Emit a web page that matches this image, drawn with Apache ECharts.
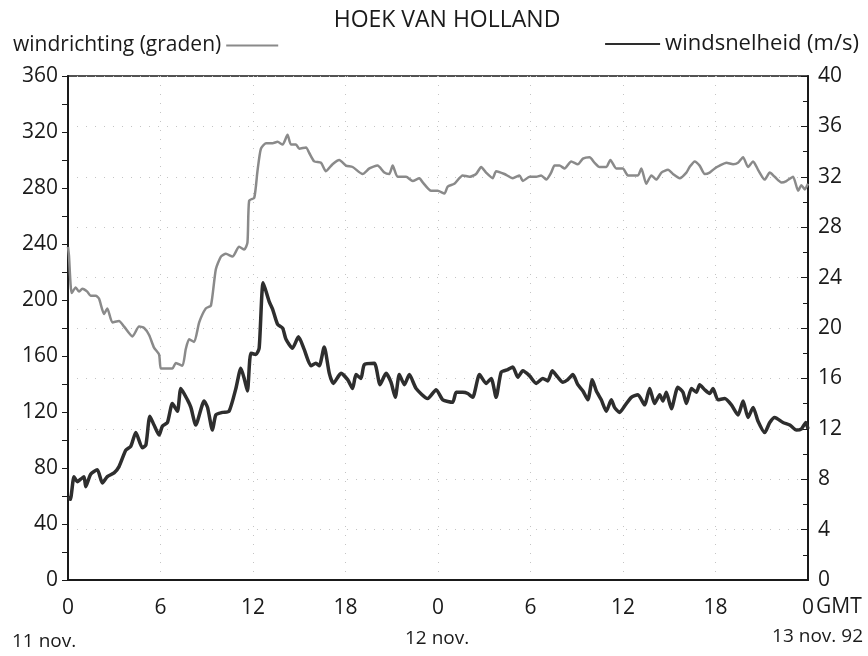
<!DOCTYPE html>
<html>
<head>
<meta charset="utf-8">
<script src="https://cdn.jsdelivr.net/npm/echarts@6/dist/echarts.min.js"></script>
<style>
  html, body { margin: 0; padding: 0; background: #fff; }
  #chart { width: 868px; height: 656px; }
</style>
</head>
<body>
<div id="chart"></div>
<script>
// uren sinds 11 nov. 0 GMT
var dirHours = [0, 0.06, 0.24, 0.5, 0.71, 0.93, 1.25, 1.47, 1.8, 2.01, 2.34, 2.55, 2.88, 3.31, 3.64, 4.18, 4.61, 4.94, 5.26, 5.58, 5.91, 6.02, 6.34, 6.77, 6.99, 7.42, 7.64, 7.86, 8.18, 8.51, 8.94, 9.27, 9.59, 9.92, 10.24, 10.67, 11.1, 11.43, 11.64, 11.75, 12.08, 12.29, 12.51, 12.84, 13.27, 13.59, 13.92, 14.24, 14.46, 14.79, 15.0, 15.44, 15.65, 15.97, 16.41, 16.73, 17.16, 17.6, 18.03, 18.46, 19.11, 19.55, 20.08, 20.52, 20.84, 21.06, 21.38, 21.93, 22.36, 22.79, 23.01, 23.55, 23.98, 24.42, 24.63, 25.06, 25.6, 26.04, 26.47, 26.8, 27.12, 27.55, 27.77, 28.31, 28.85, 29.29, 29.5, 29.94, 30.37, 30.69, 31.02, 31.34, 31.56, 31.88, 32.21, 32.64, 33.07, 33.4, 33.83, 34.16, 34.48, 34.92, 35.18, 35.56, 35.99, 36.32, 36.97, 37.19, 37.51, 37.84, 38.16, 38.49, 38.92, 39.24, 39.68, 40.11, 40.32, 40.65, 40.97, 41.3, 41.62, 41.95, 42.27, 42.71, 43.14, 43.46, 43.79, 44.11, 44.44, 44.76, 45.19, 45.52, 45.84, 46.28, 46.6, 47.03, 47.36, 47.57, 47.79, 48];
var dirValues = [238, 232, 205, 209, 206, 208, 206, 203, 203, 201, 190, 194, 184, 185, 181, 174, 181, 180, 175, 166, 161, 151, 151, 151, 155, 153, 165, 172, 170, 184, 194, 196, 222, 231, 233, 231, 238, 236, 241, 271, 273, 292, 308, 312, 312, 313, 311, 318, 311, 311, 308, 309, 305, 299, 298, 292, 297, 300, 296, 295, 290, 294, 296, 291, 290, 296, 288, 288, 285, 287, 284, 278, 278, 276, 281, 283, 289, 288, 290, 295, 291, 287, 292, 290, 287, 289, 285, 288, 288, 289, 286, 291, 296, 296, 294, 299, 297, 301, 302, 298, 295, 295, 300, 294, 294, 289, 289, 294, 283, 289, 286, 291, 293, 290, 287, 291, 295, 299, 296, 290, 291, 294, 296, 298, 297, 298, 302, 295, 299, 293, 286, 291, 288, 284, 285, 288, 278, 282, 279, 283];

var spdHours = [0, 0.15, 0.39, 0.6, 0.82, 1.04, 1.15, 1.47, 1.9, 2.23, 2.55, 2.99, 3.31, 3.75, 4.07, 4.4, 4.82, 5.05, 5.31, 5.58, 5.91, 6.12, 6.45, 6.77, 7.1, 7.32, 7.75, 7.97, 8.29, 8.83, 9.05, 9.37, 9.59, 10.02, 10.45, 10.89, 11.21, 11.43, 11.64, 11.86, 12.19, 12.4, 12.66, 13.05, 13.27, 13.59, 13.92, 14.14, 14.56, 14.95, 15.32, 15.76, 16.08, 16.3, 16.62, 16.95, 17.21, 17.71, 18.14, 18.46, 18.68, 19.0, 19.22, 19.87, 20.24, 20.63, 20.95, 21.23, 21.49, 21.82, 22.14, 22.58, 23.33, 23.88, 24.31, 24.95, 25.18, 25.6, 25.93, 26.25, 26.69, 27.12, 27.45, 27.77, 28.1, 28.53, 28.85, 29.18, 29.5, 29.94, 30.37, 30.8, 31.12, 31.41, 31.77, 32.1, 32.42, 32.75, 33.07, 33.4, 33.72, 34.01, 34.27, 34.59, 34.92, 35.24, 35.45, 35.78, 36.1, 36.54, 36.97, 37.4, 37.73, 38.05, 38.38, 38.59, 38.81, 39.14, 39.56, 39.89, 40.11, 40.44, 40.76, 40.97, 41.3, 41.62, 41.84, 42.16, 42.6, 43.03, 43.46, 43.79, 44.11, 44.44, 44.76, 45.19, 45.52, 45.84, 46.38, 46.82, 47.25, 47.58, 47.86, 48];
var spdValues = [6.6, 6.4, 8.2, 7.8, 8.0, 8.2, 7.4, 8.4, 8.75, 7.7, 8.2, 8.5, 9.0, 10.3, 10.6, 11.7, 10.5, 10.7, 13.0, 12.3, 11.5, 12.2, 12.5, 14.0, 13.4, 15.2, 14.3, 13.7, 12.3, 14.2, 13.7, 11.9, 13.1, 13.3, 13.4, 15.2, 16.8, 16.0, 15.0, 18.0, 17.9, 18.4, 23.6, 22.1, 21.5, 20.3, 20.0, 19.1, 18.4, 19.3, 18.3, 17.0, 17.2, 17.0, 18.5, 16.4, 15.6, 16.4, 15.9, 15.2, 16.3, 16.0, 17.1, 17.2, 15.5, 16.4, 15.7, 14.5, 16.3, 15.5, 16.3, 15.2, 14.4, 15.1, 14.3, 14.1, 14.9, 14.9, 14.8, 14.5, 16.3, 15.6, 16.0, 14.5, 16.5, 16.7, 16.9, 16.1, 16.6, 16.2, 15.6, 16.0, 15.8, 16.6, 16.1, 15.7, 15.9, 16.3, 15.5, 15.0, 14.3, 15.9, 15.0, 14.3, 13.4, 14.3, 13.7, 13.3, 13.8, 14.5, 14.7, 13.9, 15.2, 14.0, 14.7, 14.2, 14.9, 13.6, 15.3, 14.9, 14.0, 15.2, 14.9, 15.5, 15.1, 14.8, 15.2, 14.3, 14.4, 13.9, 13.1, 14.2, 12.9, 13.7, 12.6, 11.7, 12.5, 12.9, 12.5, 12.3, 11.9, 12.0, 12.5, 12.0];

var hourTicks = [0, 6, 12, 18, 0, 6, 12, 18, 0];
var dayLabels = ['11 nov.', '12 nov.', '13 nov. 92'];

var font = '"Open Sans", "Noto Sans", sans-serif';
var ink = '#1a1a1a';

function pairs(xs, ys) {
  var out = [];
  for (var i = 0; i < xs.length; i++) out.push([xs[i], ys[i]]);
  return out;
}

var myChart = echarts.init(document.getElementById('chart'));
var option = {
  backgroundColor: '#fff',
  animation: false,
  textStyle: { fontFamily: font, color: ink },
  title: {
    text: 'HOEK VAN HOLLAND',
    left: 442, textAlign: 'center', top: 4,
    textStyle: { fontFamily: font, fontSize: 23, fontWeight: 'normal', color: ink }
  },
  legend: [
    {
      data: ['windrichting (graden)'],
      left: 8, top: 30, align: 'right',
      icon: 'rect', itemWidth: 52, itemHeight: 2, itemGap: 6,
      textStyle: { fontFamily: font, fontSize: 21, color: ink }
    },
    {
      data: ['windsnelheid (m/s)'],
      right: 4, top: 28, align: 'left',
      icon: 'rect', itemWidth: 55, itemHeight: 2, itemGap: 7,
      textStyle: { fontFamily: font, fontSize: 22, color: ink }
    }
  ],
  grid: {
    left: 68, right: 60, top: 76, bottom: 76,
    show: true, borderColor: ink, borderWidth: 1.5
  },
  xAxis: {
    type: 'value', min: 0, max: 48, interval: 6,
    axisLine: { lineStyle: { color: ink, width: 2 } },
    axisTick: { show: false },
    axisLabel: {
      fontSize: 21, color: ink, margin: 18, fontFamily: font,
      formatter: function (v) { return String(hourTicks[Math.round(v / 6)]); }
    },
    splitLine: { show: true, lineStyle: { color: '#c4c4c4', type: [1, 8], width: 1 } }
  },
  yAxis: [
    {
      type: 'value', min: 0, max: 360, interval: 40,
      axisLine: { show: true, lineStyle: { color: ink, width: 2 } },
      axisTick: { show: true, length: 6, lineStyle: { color: ink } },
      minorTick: { show: true, splitNumber: 2, length: 6, lineStyle: { color: ink } },
      axisLabel: { fontSize: 21, color: ink, margin: 10, fontFamily: font },
      splitLine: { show: false }
    },
    {
      type: 'value', min: 0, max: 40, interval: 4,
      axisLine: { show: true, lineStyle: { color: ink, width: 2 } },
      axisTick: { show: true, inside: true, length: 7, lineStyle: { color: ink } },
      minorTick: { show: true, splitNumber: 2, length: 5, lineStyle: { color: ink } },
      axisLabel: { fontSize: 21, color: ink, margin: 10, fontFamily: font },
      splitLine: { show: true, lineStyle: { color: '#c4c4c4', type: [1, 8], width: 1 } }
    }
  ],
  series: [
    {
      name: 'windrichting (graden)',
      type: 'line', yAxisIndex: 0,
      symbol: 'none', smooth: 0.2,
      lineStyle: { color: '#8a8a8a', width: 2.5 },
      itemStyle: { color: '#8a8a8a' },
      data: pairs(dirHours, dirValues)
    },
    {
      name: 'windsnelheid (m/s)',
      type: 'line', yAxisIndex: 1,
      symbol: 'none', smooth: 0.2,
      lineStyle: { color: '#2e2e2e', width: 3.5 },
      itemStyle: { color: '#2e2e2e' },
      data: pairs(spdHours, spdValues)
    }
  ],
  graphic: [
    { type: 'text', left: 816, top: 597, style: { text: 'GMT', font: '21px ' + font, fill: ink } },
    { type: 'text', left: 12, top: 632, style: { text: dayLabels[0], font: '19px ' + font, fill: ink } },
    { type: 'text', left: 405, top: 629, style: { text: dayLabels[1], font: '19px ' + font, fill: ink } },
    { type: 'text', right: 5, top: 627, style: { text: dayLabels[2], font: '19px ' + font, fill: ink } }
  ]
};
myChart.setOption(option);
</script>
</body>
</html>
